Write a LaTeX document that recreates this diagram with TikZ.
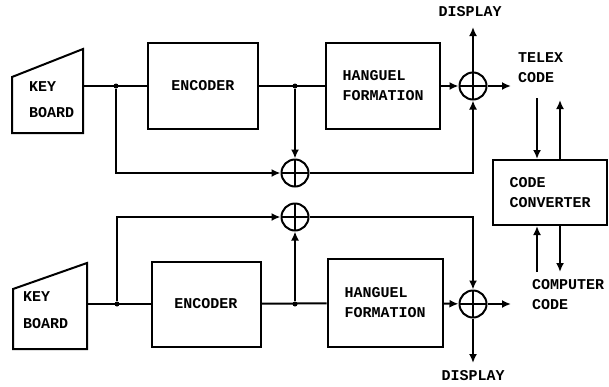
\documentclass[tikz,border=0pt]{standalone}
\usepackage{fontspec}
\setmonofont{Liberation Mono}
\usetikzlibrary{arrows.meta}
\tikzset{
  blockbox/.style={draw, line width=2pt, inner sep=0pt, align=left},
  sumnode/.style={draw, circle, line width=2pt, minimum size=27pt, inner sep=0pt,
    path picture={\draw[line width=1.8pt] (path picture bounding box.north) -- (path picture bounding box.south)
      (path picture bounding box.west) -- (path picture bounding box.east);}},
  junc/.style={circle, fill, inner sep=0pt, minimum size=5pt},
  wire/.style={line width=2pt},
  sig/.style={wire, -{Latex[length=9pt,width=8pt]}},
  lbl/.style={inner sep=0pt, align=left}
}
\begin{document}
\begin{tikzpicture}[x=1pt, y=-1pt, font=\ttfamily\bfseries\fontsize{15}{20}\selectfont]
  \useasboundingbox (0,0) rectangle (609,386);
  % upper channel
  \draw[wire] (12,77) -- (83,49) -- (83,133) -- (12,133) -- cycle;
  \node[lbl, anchor=west] (key1) at (29,87) {KEY};
  \node[lbl, anchor=west] (board1) at (29,113) {BOARD};
  \coordinate (kb1) at (83,86);
  \node[blockbox, minimum width=110pt, minimum height=86pt] (enc1) at (203,86) {ENCODER};
  \node[blockbox, minimum width=114pt, minimum height=86pt] (hf1) at (383,86) {HANGUEL\\FORMATION};
  \node[junc] (j1) at (116,86) {};
  \node[junc] (j2) at (295,86) {};
  \node[sumnode] (sumA) at (295,173) {};
  \node[sumnode] (sumB) at (473,86) {};
  \coordinate (dtop) at (473,27);
  \coordinate (tx) at (511,86);
  \node[lbl] (disp1) at (470,12) {DISPLAY};
  \node[lbl, anchor=north west] (telex) at (518,52) {TELEX\\CODE};
  \draw[wire] (kb1) -- (enc1);
  \draw[wire] (enc1) -- (hf1);
  \draw[sig] (hf1) -- (sumB);
  \draw[sig] (j2) -- (sumA);
  \draw[sig] (j1) |- (sumA);
  \draw[sig] (sumA) -| (sumB);
  \draw[sig] (sumB) -- (dtop);
  \draw[sig] (sumB) -- (tx);
  % code converter
  \node[blockbox, minimum width=114pt, minimum height=65pt] (conv) at (550,192.5) {CODE\\CONVERTER};
  \coordinate (ct1) at (537,98);
  \coordinate (ct2) at (560,100);
  \coordinate (cb1) at (537,272);
  \coordinate (cb2) at (560,272);
  \draw[sig] (ct1) -- (ct1 |- conv.north);
  \draw[sig] (ct2 |- conv.north) -- (ct2);
  \draw[sig] (cb1) -- (cb1 |- conv.south);
  \draw[sig] (cb2 |- conv.south) -- (cb2);
  \node[lbl, anchor=north west] (comp) at (532,279) {COMPUTER\\CODE};
  % lower channel
  \draw[wire] (13,289) -- (87,263) -- (87,349) -- (13,349) -- cycle;
  \node[lbl, anchor=west] (key2) at (23,297) {KEY};
  \node[lbl, anchor=west] (board2) at (23,324) {BOARD};
  \coordinate (kb2) at (87,304);
  \node[blockbox, minimum width=109pt, minimum height=85pt] (enc2) at (206,304) {ENCODER};
  \node[blockbox, minimum width=115pt, minimum height=88pt] (hf2) at (385,303) {HANGUEL\\FORMATION};
  \node[junc] (j3) at (117,304) {};
  \node[junc] (j4) at (295,304) {};
  \node[sumnode] (sumC) at (295,217) {};
  \node[sumnode] (sumD) at (473,304) {};
  \coordinate (dbot) at (473,363);
  \coordinate (cc) at (511,304);
  \node[lbl] (disp2) at (473,376) {DISPLAY};
  \draw[wire] (kb2) -- (enc2);
  \draw[wire] (enc2) -- (hf2);
  \draw[sig] (hf2) -- (sumD);
  \draw[sig] (j4) -- (sumC);
  \draw[sig] (j3) |- (sumC);
  \draw[sig] (sumC) -| (sumD);
  \draw[sig] (sumD) -- (dbot);
  \draw[sig] (sumD) -- (cc);
\end{tikzpicture}
\end{document}
